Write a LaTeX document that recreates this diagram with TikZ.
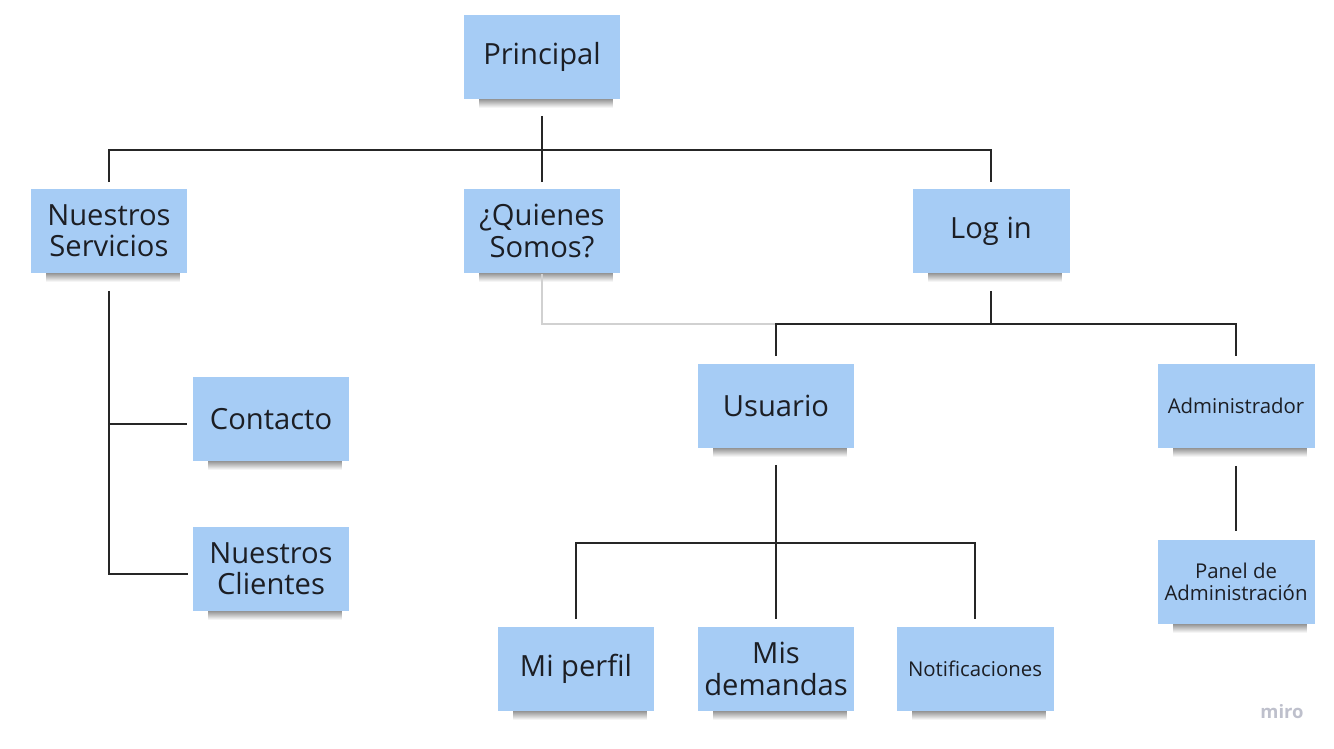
\documentclass[tikz,border=0pt]{standalone}
\usepackage{fontspec}
\setmainfont{Open Sans}
\usetikzlibrary{calc}
\definecolor{notefill}{RGB}{166,204,245}
\definecolor{notetext}{RGB}{28,30,36}
\definecolor{logogray}{RGB}{190,192,204}
\tikzstyle{note}=[rectangle, fill=notefill, minimum width=3.14cm, minimum height=1.7cm, align=center, inner sep=2pt, text=notetext, font=\fontsize{16.6}{17.8}\selectfont]
\tikzstyle{note small}=[note, font=\fontsize{11.6}{12.8}\selectfont]
\tikzstyle{link}=[line width=.8pt, black!85]
\tikzstyle{faint}=[line width=.8pt, black!18]

\begin{document}
\begin{tikzpicture}[x=0.02cm,y=-0.02cm]
    \useasboundingbox (0,0) rectangle (1334,749);

    % Notes
    \draw (542,57) node[note] (prin) {Principal};
    \draw (109,231) node[note] (serv) {Nuestros\\Servicios};
    \draw (542,231) node[note] (quien) {¿Quienes\\Somos?};
    \draw (991,231) node[note] (login) {Log in};
    \draw (271,419) node[note] (cont) {Contacto};
    \draw (271,569) node[note] (clien) {Nuestros\\Clientes};
    \draw (776,406) node[note] (usu) {Usuario};
    \draw (1236,406) node[note small] (admin) {Administrador};
    \draw (1236,582) node[note small] (panel) {Panel de\\Administración};
    \draw (576,669) node[note] (perfil) {Mi perfil};
    \draw (776,669) node[note] (dem) {Mis\\demandas};
    \draw (975,669) node[note small] (notif) {Notificaciones};

    % Shadows
    \foreach \n in {prin,serv,quien,login,cont,clien,usu,admin,panel,perfil,dem,notif}
        \shade[top color=black!38, bottom color=white]
        ($(\n.south west)+(16,0)$) rectangle ($(\n.south east)+(-8,8)$);

    % Junctions
    \coordinate (pj) at (542,150);
    \coordinate (lj) at (991,324);
    \coordinate (uj) at (776,543);

    % Principal
    \draw[link] ($(prin.south)+(0,16)$) -- (pj);
    \draw[link] ($(serv.north)+(0,-6)$) |- (pj) -| ($(login.north)+(0,-6)$);
    \draw[link] ($(quien.north)+(0,-6)$) -- (pj);

    % Nuestros Servicios
    \draw[link] ($(serv.south)+(0,17)$) |- ($(clien.west)+(-4,5)$);
    \draw[link] ($(serv.south|-cont.west)+(0,5)$) -- ($(cont.west)+(-5,5)$);

    % Log in
    \draw[faint] (quien.south) |- (lj -| usu.north);
    \draw[link] ($(login.south)+(0,17)$) -- (lj);
    \draw[link] ($(usu.north)+(0,-7)$) |- (lj) -| ($(admin.north)+(0,-7)$);

    % Usuario
    \draw[link] ($(usu.south)+(0,16)$) -- ($(dem.north)+(0,-7)$);
    \draw[link] ($(perfil.north)+(0,-7)$) |- (uj) -| ($(notif.north)+(0,-7)$);

    % Administrador
    \draw[link] ($(admin.south)+(0,17)$) -- ($(panel.north)+(0,-8)$);

    \draw (1282,712) node[text=logogray, font=\fontsize{10.5}{12}\selectfont\bfseries] (logo) {miro};
\end{tikzpicture}
\end{document}
